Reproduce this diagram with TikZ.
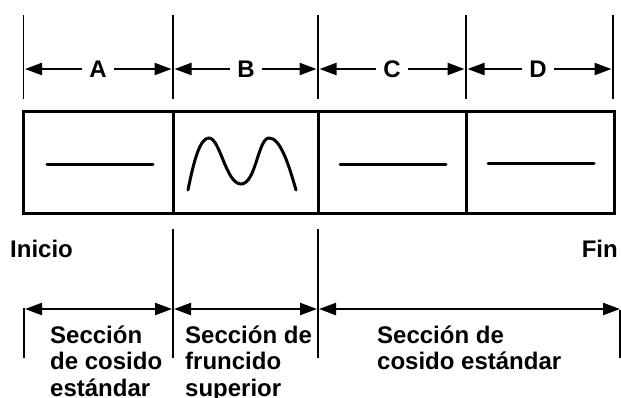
\documentclass[tikz,border=0pt]{standalone}
\usepackage{fontspec}
\setmainfont{Liberation Sans}
\usetikzlibrary{arrows.meta}
\begin{document}
\begin{tikzpicture}[x=1pt,y=-1pt,
  tick/.style={line width=1.6pt},
  dim/.style={line width=2.2pt,-{Triangle[length=17pt,width=12pt]}},
  dimboth/.style={line width=2.2pt,{Triangle[length=17pt,width=12pt]}-{Triangle[length=17pt,width=12pt]}},
  boxline/.style={line width=3pt},
  stitch/.style={line width=3pt,line cap=round},
  lab/.style={font=\bfseries\fontsize{24}{27}\selectfont,inner sep=0pt},
  sect/.style={font=\bfseries\fontsize{24}{26.5}\selectfont,inner sep=0pt,align=left,anchor=base west}]
\useasboundingbox (0,0) rectangle (621,397);
% top ticks
\foreach \n/\x in {t1/23.5,t2/173,t3/318,t4/466,t5/613}{
  \coordinate (\n top) at (\x,15);
  \coordinate (\n bot) at (\x,99);
  \coordinate (\n mid) at (\x,69);
  \draw[tick] (\n top) -- (\n bot);
}
% labels A-D
\node[lab] (A) at (98,69) {A};
\node[lab] (B) at (246,69) {B};
\node[lab] (C) at (392,69) {C};
\node[lab] (D) at (538,69) {D};
\foreach \l/\a/\b in {A/t1/t2,B/t2/t3,C/t3/t4,D/t4/t5}{
  \draw[dim] ([xshift=-7pt]\l.west) -- ([xshift=1.5pt]\a mid);
  \draw[dim] ([xshift=7pt]\l.east) -- ([xshift=-1.5pt]\b mid);
}
% box
\coordinate (bx1) at (23.5,111);
\coordinate (bx2) at (614,213);
\draw[boxline] (bx1) rectangle (bx2);
\foreach \x in {173,318,466}{
  \draw[boxline] (\x,111) -- (\x,213);
}
% stitches
\draw[stitch] (47,164) -- (153,164);
\draw[stitch] (340,164) -- (446,164);
\draw[stitch] (488,163) -- (594,163);
\draw[stitch] (188,190) .. controls (194,160) and (200,138) .. (209,138)
  .. controls (220,138) and (226,184) .. (241,184)
  .. controls (256,184) and (258,138) .. (269,138)
  .. controls (280,138) and (288,162) .. (296,190);
% Inicio / Fin
\node[lab,anchor=base west] (ini) at (10,257) {Inicio};
\node[lab,anchor=base east] (fin) at (618,257) {Fin};
% lower ticks
\coordinate (l1top) at (24,308); \coordinate (l1bot) at (24,358);
\coordinate (l2top) at (173,229); \coordinate (l2bot) at (173,358);
\coordinate (l3top) at (318,229); \coordinate (l3bot) at (318,358);
\coordinate (l4top) at (620,310); \coordinate (l4bot) at (620,358);
\foreach \n in {l1,l2,l3,l4}{\draw[tick] (\n top) -- (\n bot);}
\coordinate (a1) at (25,309); \coordinate (a2l) at (172,309);
\coordinate (a2r) at (174,309); \coordinate (a3l) at (317,309);
\coordinate (a3r) at (319,309); \coordinate (a4) at (620,309);
\draw[dimboth] (a1) -- (a2l);
\draw[dimboth] (a2r) -- (a3l);
\draw[dimboth] (a3r) -- (a4);
% section texts (base anchor = last line baseline)
\node[sect] (s1) at (50,396) {Sección\\de cosido\\estándar};
\node[sect] (s2) at (185,396) {Sección de\\fruncido\\superior};
\node[sect] (s3) at (377,369.5) {Sección de\\cosido estándar};
\end{tikzpicture}
\end{document}
